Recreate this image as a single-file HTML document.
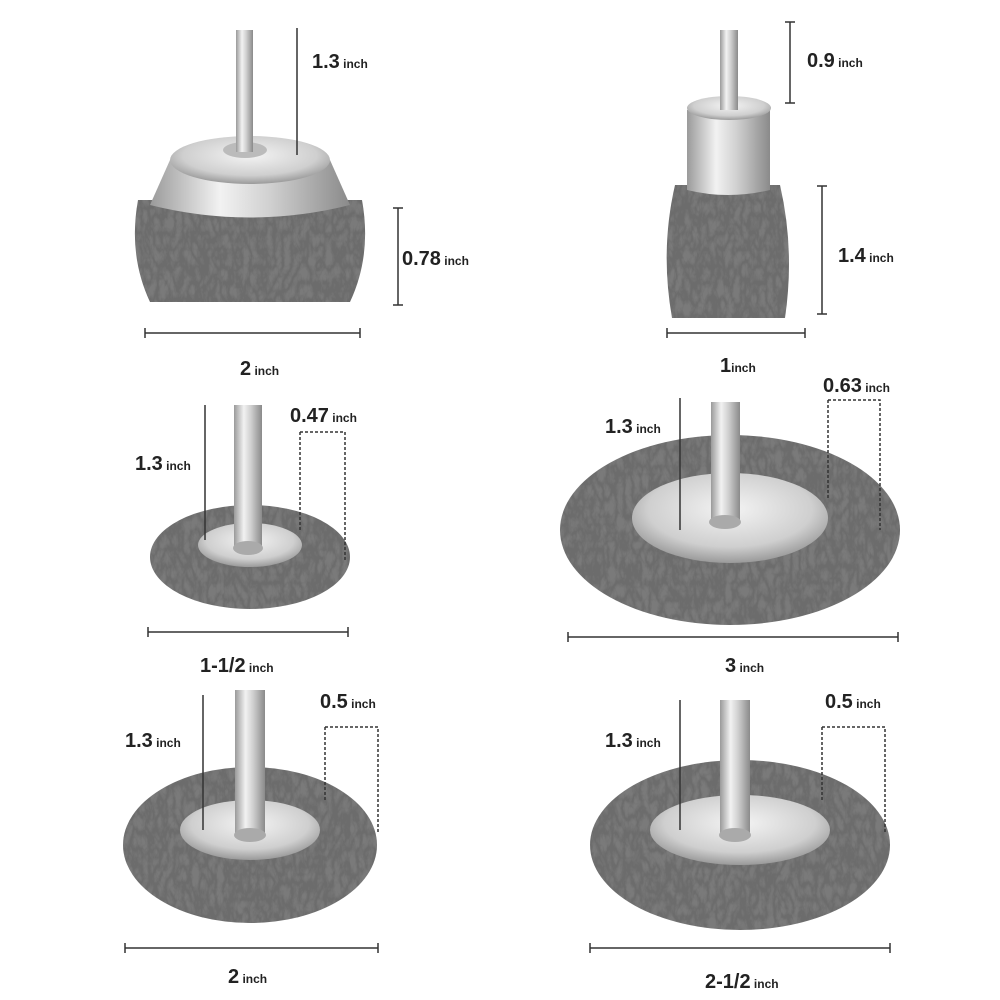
<!DOCTYPE html>
<html><head><meta charset="utf-8"><style>
html,body{margin:0;padding:0;background:#fff}
svg{display:block}
text{font-family:"Liberation Sans",sans-serif;font-weight:bold;fill:#222}
.b{font-size:20px}.s{font-size:12px}
.d{stroke:#333;stroke-width:1.5;fill:none}
.dt{stroke:#333;stroke-width:1.5;fill:none;stroke-dasharray:3 2}
</style></head><body>
<svg width="1000" height="1000" viewBox="0 0 1000 1000">
<defs>
<filter id="wire" x="0" y="0" width="100%" height="100%">
<feTurbulence type="turbulence" baseFrequency="0.12 0.06" numOctaves="3" seed="3" result="t"/>
<feColorMatrix in="t" type="matrix" values="0 0 0 0 0.15  0 0 0 0 0.15  0 0 0 0 0.15  0 0 0 -2.5 1.4" result="c"/>
<feComposite in="c" in2="SourceGraphic" operator="atop"/>
</filter>
<linearGradient id="met" x1="0" x2="1" y1="0" y2="0">
<stop offset="0" stop-color="#9a9a9a"/><stop offset=".35" stop-color="#f2f2f2"/><stop offset=".6" stop-color="#d0d0d0"/><stop offset="1" stop-color="#8a8a8a"/>
</linearGradient>
<radialGradient id="hub" cx=".5" cy=".4" r=".6">
<stop offset="0" stop-color="#f4f4f4"/><stop offset=".7" stop-color="#cfcfcf"/><stop offset="1" stop-color="#9a9a9a"/>
</radialGradient>
</defs>

<!-- Top-left cup brush -->
<path d="M138 200 Q128 255 150 302 L350 302 Q372 255 362 200 Z" fill="#7a7a7a" filter="url(#wire)"/>
<path d="M170 160 L330 160 L350 205 Q250 230 150 205 Z" fill="url(#met)"/>
<ellipse cx="250" cy="160" rx="80" ry="24" fill="url(#hub)"/>
<ellipse cx="245" cy="150" rx="22" ry="8" fill="#bbb"/>
<rect x="236" y="30" width="17" height="122" fill="url(#met)"/>
<line class="d" x1="297" y1="28" x2="297" y2="155"/>
<text x="312" y="68"><tspan class="b">1.3</tspan><tspan class="s"> inch</tspan></text>
<path class="d" d="M393 208H403M398 208V305M393 305H403"/>
<text x="402" y="265"><tspan class="b">0.78</tspan><tspan class="s"> inch</tspan></text>
<path class="d" d="M145 328V338M145 333H360M360 328V338"/>
<text x="240" y="375"><tspan class="b">2</tspan><tspan class="s"> inch</tspan></text>

<!-- Top-right end brush -->
<path d="M675 185 Q660 250 672 318 L785 318 Q795 250 780 185 Z" fill="#7a7a7a" filter="url(#wire)"/>
<path d="M687 110 Q728 95 770 110 L770 190 Q728 200 687 190 Z" fill="url(#met)"/>
<ellipse cx="729" cy="108" rx="42" ry="12" fill="url(#hub)"/>
<rect x="720" y="30" width="18" height="80" fill="url(#met)"/>
<path class="d" d="M785 22H795M790 22V103M785 103H795"/>
<text x="807" y="67"><tspan class="b">0.9</tspan><tspan class="s"> inch</tspan></text>
<path class="d" d="M817 186H827M822 186V314M817 314H827"/>
<text x="838" y="262"><tspan class="b">1.4</tspan><tspan class="s"> inch</tspan></text>
<path class="d" d="M667 328V338M667 333H805M805 328V338"/>
<text x="720" y="372"><tspan class="b">1</tspan><tspan class="s">inch</tspan></text>

<!-- Middle-left wheel -->
<ellipse cx="250" cy="557" rx="100" ry="52" fill="#7a7a7a" filter="url(#wire)"/>
<ellipse cx="250" cy="545" rx="52" ry="22" fill="url(#hub)"/>
<rect x="234" y="405" width="28" height="145" fill="url(#met)"/>
<ellipse cx="248" cy="548" rx="15" ry="7" fill="#aaa"/>
<line class="d" x1="205" y1="405" x2="205" y2="540"/>
<text x="135" y="470"><tspan class="b">1.3</tspan><tspan class="s"> inch</tspan></text>
<path class="dt" d="M300 432H345V560"/><line class="dt" x1="300" y1="432" x2="300" y2="530"/>
<text x="290" y="422"><tspan class="b">0.47</tspan><tspan class="s"> inch</tspan></text>
<path class="d" d="M148 627V637M148 632H348M348 627V637"/>
<text x="200" y="672"><tspan class="b">1-1/2</tspan><tspan class="s"> inch</tspan></text>

<!-- Middle-right wheel -->
<ellipse cx="730" cy="530" rx="170" ry="95" fill="#7a7a7a" filter="url(#wire)"/>
<ellipse cx="730" cy="518" rx="98" ry="45" fill="url(#hub)"/>
<rect x="711" y="402" width="29" height="122" fill="url(#met)"/>
<ellipse cx="725" cy="522" rx="16" ry="7" fill="#aaa"/>
<line class="d" x1="680" y1="398" x2="680" y2="530"/>
<text x="605" y="433"><tspan class="b">1.3</tspan><tspan class="s"> inch</tspan></text>
<path class="dt" d="M828 400H880V530"/><line class="dt" x1="828" y1="400" x2="828" y2="500"/>
<text x="823" y="392"><tspan class="b">0.63</tspan><tspan class="s"> inch</tspan></text>
<path class="d" d="M568 632V642M568 637H898M898 632V642"/>
<text x="725" y="672"><tspan class="b">3</tspan><tspan class="s"> inch</tspan></text>

<!-- Bottom-left wheel -->
<ellipse cx="250" cy="845" rx="127" ry="78" fill="#7a7a7a" filter="url(#wire)"/>
<ellipse cx="250" cy="830" rx="70" ry="30" fill="url(#hub)"/>
<rect x="235" y="690" width="30" height="145" fill="url(#met)"/>
<ellipse cx="250" cy="835" rx="16" ry="7" fill="#aaa"/>
<line class="d" x1="203" y1="695" x2="203" y2="830"/>
<text x="125" y="747"><tspan class="b">1.3</tspan><tspan class="s"> inch</tspan></text>
<path class="dt" d="M325 727H378V832"/><line class="dt" x1="325" y1="727" x2="325" y2="800"/>
<text x="320" y="708"><tspan class="b">0.5</tspan><tspan class="s"> inch</tspan></text>
<path class="d" d="M125 943V953M125 948H378M378 943V953"/>
<text x="228" y="983"><tspan class="b">2</tspan><tspan class="s"> inch</tspan></text>

<!-- Bottom-right wheel -->
<ellipse cx="740" cy="845" rx="150" ry="85" fill="#7a7a7a" filter="url(#wire)"/>
<ellipse cx="740" cy="830" rx="90" ry="35" fill="url(#hub)"/>
<rect x="720" y="700" width="30" height="135" fill="url(#met)"/>
<ellipse cx="735" cy="835" rx="16" ry="7" fill="#aaa"/>
<line class="d" x1="680" y1="700" x2="680" y2="830"/>
<text x="605" y="747"><tspan class="b">1.3</tspan><tspan class="s"> inch</tspan></text>
<path class="dt" d="M822 727H885V832"/><line class="dt" x1="822" y1="727" x2="822" y2="800"/>
<text x="825" y="708"><tspan class="b">0.5</tspan><tspan class="s"> inch</tspan></text>
<path class="d" d="M590 943V953M590 948H890M890 943V953"/>
<text x="705" y="988"><tspan class="b">2-1/2</tspan><tspan class="s"> inch</tspan></text>
</svg>
</body></html>
